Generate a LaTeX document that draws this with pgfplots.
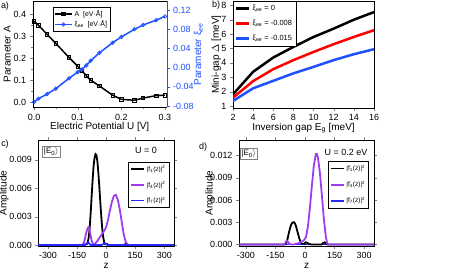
\documentclass[border=0pt]{standalone}
\usepackage{fontspec}
\setmainfont{Liberation Sans}
\usepackage{pgfplots}
\pgfplotsset{compat=1.18}
\definecolor{myblue}{RGB}{30,80,255}
\definecolor{mypurple}{RGB}{160,60,240}
\definecolor{cblue}{RGB}{40,40,255}
\begin{document}
\begin{tikzpicture}
\path[use as bounding box] (0bp,0bp) rectangle (457bp,271bp);
\pgfplotsset{
  every axis/.append style={scale only axis, anchor=south west, tick align=outside,
    major tick length=3bp, minor tick length=1.6bp,
    tick label style={font=\fontsize{9}{10}\selectfont},
    label style={font=\fontsize{10.5}{11}\selectfont},
    /pgf/number format/assume math mode=true, scaled ticks=false,
    every axis x label/.style={at={(axis description cs:0.5,-0.18)}, anchor=center},
  },
}
% ---------- panel a ----------
\begin{axis}[at={(32.7bp,163.5bp)}, width=134bp, height=106.5bp,
  xmin=-0.003, xmax=0.304, ymin=-0.025, ymax=0.46,
  axis y line*=left, xtick pos=bottom,
  xtick={0,0.1,0.2,0.3}, ytick={0,0.1,0.2,0.3,0.4}, minor tick num=1,
  xticklabel style={/pgf/number format/.cd,fixed,fixed zerofill,precision=1},
  yticklabel style={/pgf/number format/.cd,fixed,fixed zerofill,precision=1},
  xlabel={Electric Potential U [V]},
  ylabel={Parameter A},
  every axis y label/.style={at={(axis description cs:-0.19,0.5)}, rotate=90, anchor=center},
]
\addplot[black, line width=1.5bp, mark=square, mark size=1.7bp, mark options={fill=white, line width=0.7bp}] coordinates {
(0,0.368) (0.01,0.350) (0.03,0.308) (0.05,0.267) (0.08,0.203) (0.10,0.163) (0.11,0.142)
(0.12,0.119) (0.13,0.099) (0.15,0.073) (0.18,0.031) (0.20,0.012) (0.23,0.008) (0.25,0.018)
(0.28,0.029) (0.30,0.031)};
\end{axis}
\begin{axis}[at={(32.7bp,163.5bp)}, width=134bp, height=106.5bp,
  xmin=-0.003, xmax=0.304, ymin=-0.083, ymax=0.139,
  axis y line*=right, axis x line=none,
  ytick={-0.08,-0.04,0,0.04,0.08,0.12}, minor y tick num=1,
  y axis line style={myblue}, every y tick/.style={myblue},
  yticklabel style={myblue, /pgf/number format/.cd,fixed,fixed zerofill,precision=2},
  ylabel={Parameter ξ\textsubscript{ee}},
  every axis y label/.style={at={(axis description cs:1.237,0.5)}, rotate=90, anchor=center, myblue},
  legend style={at={(axis description cs:0.151,0.944)}, anchor=north west,
    font=\fontsize{7}{8}\selectfont, draw=black, inner sep=1pt, row sep=-1pt},
  legend cell align=left,
]
\addlegendimage{black, line width=1.5bp, mark=square, mark size=1.7bp, mark options={fill=white, line width=0.7bp}}
\addlegendentry{A \ [eV·Å]}
\addplot[myblue, line width=1.5bp, mark=o, mark size=1.8bp, mark options={fill=white, line width=0.7bp}] coordinates {
(0,-0.0717) (0.01,-0.0646) (0.03,-0.055) (0.05,-0.0437) (0.08,-0.0223) (0.10,-0.0092)
(0.11,-0.0035) (0.12,0.0048) (0.13,0.0146) (0.15,0.031) (0.18,0.052) (0.20,0.064)
(0.23,0.080) (0.25,0.089) (0.28,0.099) (0.30,0.107)};
\addlegendentry{ξ\textsubscript{ee} \ [eV·Å]}
\end{axis}
% ---------- panel b ----------
\begin{axis}[at={(233bp,163bp)}, width=141bp, height=107bp,
  xmin=2, xmax=16, ymin=0.86, ymax=8.3,
  xtick={2,4,...,16}, ytick={1,...,8}, xtick pos=bottom, ytick pos=left,
  xlabel={Inversion gap E\textsubscript{g} [meV]},
  ylabel={Mini-gap $\Delta$ [meV]},
  every axis x label/.style={at={(axis description cs:0.5,-0.19)}, anchor=center},
  every axis y label/.style={at={(axis description cs:-0.118,0.5)}, rotate=90, anchor=center},
  legend style={at={(axis description cs:0.0,1.0)}, anchor=north west,
    font=\fontsize{7.5}{8}\selectfont, draw=black, inner sep=2pt, row sep=4pt},
  legend cell align=left,
  legend image code/.code={\draw[#1] (0bp,0bp) -- (13bp,0bp);},
]
\addplot[black, line width=2.5bp] coordinates {(2,1.81) (4,3.38) (6,4.37) (8,5.11) (10,5.80) (12,6.38) (14,7.0) (16,7.53)};
\addlegendentry{ξ\textsubscript{ee} = 0}
\addplot[red, line width=2.5bp] coordinates {(2,1.58) (4,2.73) (6,3.56) (8,4.19) (10,4.76) (12,5.30) (14,5.80) (16,6.27)};
\addlegendentry{ξ\textsubscript{ee} = -0.008}
\addplot[myblue, line width=2.5bp] coordinates {(2,1.35) (4,2.23) (6,2.75) (8,3.27) (10,3.72) (12,4.19) (14,4.6) (16,4.95)};
\addlegendentry{ξ\textsubscript{ee} = -0.015}
\end{axis}
% ---------- panel c ----------
\begin{axis}[at={(38.3bp,25bp)}, width=135.7bp, height=106bp,
  xmin=-350, xmax=350, ymin=-0.0001, ymax=0.0111,
  xtick={-300,-150,0,150,300}, ytick={0,0.003,0.006,0.009},
  yticklabel style={/pgf/number format/.cd,fixed,fixed zerofill,precision=3},
  xlabel={z}, ylabel={Amplitude},
  every axis x label/.style={at={(axis description cs:0.5,-0.19)}, anchor=center},
  every axis y label/.style={at={(axis description cs:-0.253,0.5)}, rotate=90, anchor=center},
  legend style={at={(axis description cs:0.663,0.792)}, anchor=north west,
    font=\fontsize{6.5}{7}\selectfont, draw=black, inner sep=1.5pt, row sep=4.5pt},
  legend cell align=left,
  legend image code/.code={\draw[#1] (0bp,0bp) -- (13bp,0bp);},
]
\addlegendimage{black, line width=1.8bp}\addlegendentry{|f\textsubscript{1}(z)|\textsuperscript{2}}
\addlegendimage{mypurple, line width=1.8bp}\addlegendentry{|f\textsubscript{4}(z)|\textsuperscript{2}}
\addlegendimage{cblue, line width=1.8bp}\addlegendentry{|f\textsubscript{7}(z)|\textsuperscript{2}}
\addplot[black, line width=1.8bp, forget plot] coordinates {
(-350,0) (-120,0) (-110,0.00003) (-100,0.0001) (-95,0.0003) (-90,0.0008) (-85,0.0018)
(-80,0.0033) (-75,0.0051) (-70,0.0068) (-65,0.0083) (-60,0.0092) (-55,0.0096) (-50,0.0095)
(-45,0.0088) (-40,0.0076) (-35,0.0061) (-30,0.0045) (-25,0.0030) (-20,0.0017) (-15,0.0008)
(-10,0.0003) (-5,0.0001) (0,0.0001) (5,0.0001) (15,0) (90,0) (100,0.0001) (110,0) (350,0)};
\addplot[mypurple, line width=1.8bp, forget plot] coordinates {
(-350,0) (-125,0) (-115,0.0002) (-110,0.0006) (-105,0.0011) (-100,0.0015) (-95,0.0018)
(-90,0.0019) (-85,0.0016) (-80,0.0010) (-75,0.0005) (-70,0.0002) (-65,0.00005) (-60,0.0001)
(-50,0.0003) (-40,0.0006) (-30,0.0009) (-20,0.0012) (-10,0.0015) (0,0.0019) (10,0.0027)
(20,0.0037) (30,0.0046) (40,0.0052) (50,0.0053) (60,0.0048) (70,0.0038) (80,0.0025)
(90,0.0012) (100,0.0004) (110,0.00005) (120,0) (350,0)};
\addplot[cblue, line width=1.8bp, forget plot] coordinates {
(-350,0) (-110,0) (-100,0.0001) (-92,0.0003) (-85,0.0001) (-78,0) (-25,0) (-15,0.0001)
(-8,0.0002) (0,0.0001) (8,0) (350,0)};
\node[draw=gray, inner sep=1.5pt, font=\fontsize{8}{9}\selectfont] at (axis description cs:0.095,0.887) {|E\textsubscript{0}$\rangle$};
\node[font=\fontsize{9}{10}\selectfont] at (axis description cs:0.794,0.906) {U = 0};
\end{axis}
% ---------- panel d ----------
\begin{axis}[at={(239bp,25bp)}, width=135bp, height=106bp,
  xmin=-335, xmax=350, ymin=-0.0002, ymax=0.0141,
  xtick={-300,-150,0,150,300}, ytick={0,0.003,0.006,0.009,0.012},
  yticklabel style={/pgf/number format/.cd,fixed,fixed zerofill,precision=3},
  xlabel={z}, ylabel={Amplitude},
  every axis x label/.style={at={(axis description cs:0.5,-0.19)}, anchor=center},
  every axis y label/.style={at={(axis description cs:-0.215,0.5)}, rotate=90, anchor=center},
  legend style={at={(axis description cs:0.659,0.80)}, anchor=north west,
    font=\fontsize{6.5}{7}\selectfont, draw=black, inner sep=1.5pt, row sep=5pt},
  legend cell align=left,
  legend image code/.code={\draw[#1] (0bp,0bp) -- (13bp,0bp);},
]
\addlegendimage{black, line width=1.8bp}\addlegendentry{|f\textsubscript{1}(z)|\textsuperscript{2}}
\addlegendimage{mypurple, line width=1.8bp}\addlegendentry{|f\textsubscript{4}(z)|\textsuperscript{2}}
\addlegendimage{cblue, line width=1.8bp}\addlegendentry{|f\textsubscript{7}(z)|\textsuperscript{2}}
\addplot[cblue, line width=1.8bp, forget plot] coordinates {(-335,0) (350,0)};
\addplot[black, line width=1.8bp, forget plot] coordinates {
(-335,0) (-105,0) (-100,0.00003) (-95,0.0002) (-90,0.0006) (-85,0.0012) (-80,0.0018)
(-75,0.0023) (-70,0.0027) (-65,0.0029) (-60,0.0030) (-55,0.0030) (-50,0.0028) (-45,0.0024)
(-40,0.0019) (-35,0.0014) (-30,0.0009) (-25,0.0005) (-20,0.0002) (-15,0.0001) (-5,0.0001)
(5,0.0003) (12,0.0002) (20,0.0001) (30,0) (85,0) (92,0.0002) (100,0.0003) (108,0.0001)
(115,0) (350,0)};
\addplot[mypurple, line width=1.8bp, forget plot] coordinates {
(-335,0) (-110,0) (-103,0.0001) (-97,0.0004) (-92,0.0005) (-87,0.0004) (-80,0.0001) (-72,0)
(-60,0) (-45,0.0001) (-30,0.0002) (-15,0.0004) (-5,0.0006) (5,0.0010) (15,0.0025)
(25,0.0050) (35,0.0080) (45,0.0107) (55,0.0122) (60,0.0122) (65,0.0118) (75,0.0098)
(85,0.0068) (95,0.0036) (105,0.0012) (112,0.0002) (118,0) (350,0)};
\node[draw=gray, inner sep=1.5pt, font=\fontsize{8}{9}\selectfont] at (axis description cs:0.072,0.868) {|E\textsubscript{0}$\rangle$};
\node[font=\fontsize{9}{10}\selectfont] at (axis description cs:0.793,0.887) {U = 0.2 eV};
\end{axis}
% panel letters
\node[font=\fontsize{9}{10}\selectfont] at (5bp,265bp) {a)};
\node[font=\fontsize{9}{10}\selectfont] at (216bp,266bp) {b)};
\node[font=\fontsize{9}{10}\selectfont] at (5bp,127bp) {c)};
\node[font=\fontsize{9}{10}\selectfont] at (203bp,124bp) {d)};
\end{tikzpicture}
\end{document}
